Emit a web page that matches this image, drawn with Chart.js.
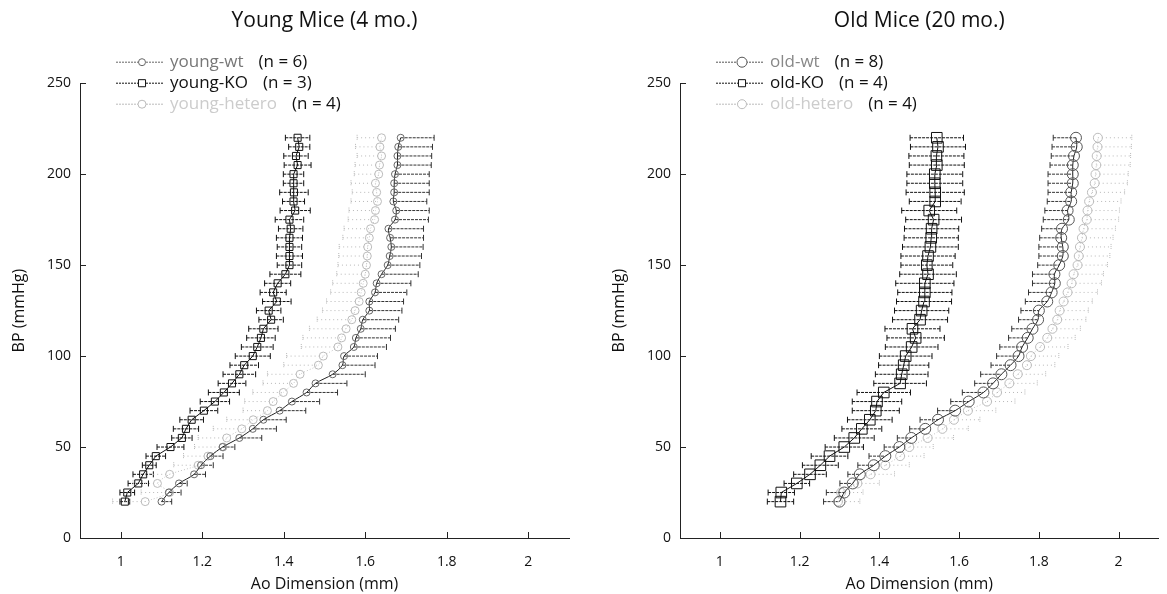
<!DOCTYPE html>
<html>
<head>
<meta charset="utf-8">
<script src="https://cdn.jsdelivr.net/npm/chart.js@4.4.0/dist/chart.umd.min.js"></script>
<style>
    body { margin: 0; background: #fff; }
    .wrap { position: relative; width: 1167px; height: 594px; overflow: hidden; }
    canvas { position: absolute; top: 0; }
    #youngChart { left: 0; }
    #oldChart { left: 600px; }
</style>
</head>
<body>
<div class="wrap">
    <canvas id="youngChart" width="649" height="594"></canvas>
    <canvas id="oldChart" width="567" height="594"></canvas>
</div>
<script>
const bpLevels = [20, 25, 30, 35, 40, 45, 50, 55, 60, 65, 70, 75, 80, 85, 90, 95, 100, 105, 110, 115, 120,
    125, 130, 135, 140, 145, 150, 155, 160, 165, 170, 175, 180, 185, 190, 195, 200, 205, 210, 215, 220];
const xTickValues = [1, 1.2, 1.4, 1.6, 1.8, 2];
const yTickValues = [0, 50, 100, 150, 200, 250];

// young mice (4 mo.)
const youngWt = [1.100, 1.118, 1.143, 1.180, 1.197, 1.220, 1.250, 1.291, 1.324, 1.350, 1.390, 1.420, 1.456, 1.478,
    1.520, 1.544, 1.548, 1.572, 1.577, 1.589, 1.594, 1.610, 1.610, 1.624, 1.628, 1.640, 1.655, 1.660, 1.664, 1.661,
    1.657, 1.673, 1.676, 1.669, 1.671, 1.671, 1.673, 1.679, 1.679, 1.681, 1.687];
const youngWtErr = [0.025, 0.030, 0.020, 0.028, 0.030, 0.031, 0.030, 0.055, 0.058, 0.056, 0.064, 0.068, 0.076, 0.077,
    0.080, 0.080, 0.082, 0.080, 0.085, 0.085, 0.088, 0.080, 0.084, 0.078, 0.084, 0.090, 0.079, 0.078, 0.078, 0.082,
    0.086, 0.082, 0.081, 0.082, 0.086, 0.086, 0.084, 0.083, 0.084, 0.084, 0.082];
const youngKo = [1.010, 1.016, 1.043, 1.055, 1.070, 1.086, 1.122, 1.150, 1.160, 1.174, 1.204, 1.231, 1.253, 1.273,
    1.291, 1.303, 1.324, 1.335, 1.344, 1.350, 1.369, 1.363, 1.383, 1.374, 1.385, 1.404, 1.414, 1.414, 1.414, 1.414,
    1.417, 1.414, 1.428, 1.424, 1.425, 1.424, 1.424, 1.434, 1.430, 1.438, 1.434];
const youngKoErr = [0.012, 0.018, 0.025, 0.025, 0.017, 0.024, 0.033, 0.025, 0.031, 0.029, 0.034, 0.036, 0.038, 0.034,
    0.040, 0.035, 0.043, 0.039, 0.035, 0.036, 0.030, 0.030, 0.035, 0.032, 0.032, 0.038, 0.030, 0.032, 0.030, 0.032,
    0.030, 0.035, 0.037, 0.027, 0.035, 0.025, 0.025, 0.033, 0.030, 0.026, 0.030];
const youngHet = [1.060, 1.120, 1.090, 1.120, 1.190, 1.214, 1.251, 1.260, 1.297, 1.325, 1.360, 1.374, 1.399, 1.424,
    1.440, 1.485, 1.497, 1.533, 1.542, 1.553, 1.567, 1.575, 1.585, 1.590, 1.595, 1.600, 1.603, 1.605, 1.606, 1.610,
    1.613, 1.623, 1.625, 1.630, 1.628, 1.625, 1.633, 1.635, 1.640, 1.636, 1.640];
const youngHetErr = [0.080, 0.070, 0.060, 0.060, 0.060, 0.060, 0.070, 0.070, 0.070, 0.065, 0.060, 0.070, 0.075, 0.075,
    0.080, 0.085, 0.090, 0.090, 0.095, 0.090, 0.085, 0.080, 0.080, 0.075, 0.075, 0.070, 0.070, 0.070, 0.070, 0.065,
    0.065, 0.065, 0.065, 0.065, 0.060, 0.060, 0.060, 0.060, 0.060, 0.060, 0.060];

// old mice (20 mo.)
const oldWt = [1.300, 1.312, 1.333, 1.351, 1.386, 1.415, 1.450, 1.480, 1.515, 1.547, 1.590, 1.624, 1.661, 1.685,
    1.706, 1.729, 1.749, 1.758, 1.772, 1.784, 1.798, 1.800, 1.821, 1.832, 1.840, 1.839, 1.851, 1.860, 1.860, 1.856,
    1.858, 1.875, 1.872, 1.881, 1.881, 1.885, 1.885, 1.885, 1.888, 1.895, 1.893];
const oldWtErr = [0.040, 0.045, 0.032, 0.030, 0.040, 0.041, 0.038, 0.035, 0.039, 0.045, 0.044, 0.045, 0.053, 0.046,
    0.052, 0.049, 0.055, 0.056, 0.048, 0.052, 0.049, 0.045, 0.055, 0.058, 0.056, 0.055, 0.054, 0.060, 0.060, 0.054,
    0.051, 0.064, 0.057, 0.060, 0.058, 0.062, 0.062, 0.057, 0.057, 0.062, 0.057];
const oldKo = [1.152, 1.154, 1.193, 1.226, 1.252, 1.275, 1.312, 1.337, 1.356, 1.376, 1.391, 1.394, 1.411, 1.452,
    1.456, 1.461, 1.466, 1.481, 1.491, 1.483, 1.502, 1.506, 1.512, 1.514, 1.514, 1.522, 1.519, 1.522, 1.528, 1.530,
    1.531, 1.536, 1.525, 1.540, 1.540, 1.539, 1.539, 1.544, 1.543, 1.547, 1.544];
const oldKoErr = [0.033, 0.033, 0.032, 0.041, 0.045, 0.046, 0.048, 0.050, 0.050, 0.056, 0.059, 0.062, 0.067, 0.066,
    0.066, 0.063, 0.066, 0.066, 0.072, 0.069, 0.069, 0.068, 0.069, 0.068, 0.073, 0.071, 0.065, 0.068, 0.070, 0.068,
    0.068, 0.070, 0.069, 0.065, 0.073, 0.070, 0.070, 0.069, 0.069, 0.069, 0.067];
const oldHet = [1.296, 1.304, 1.345, 1.378, 1.415, 1.452, 1.475, 1.521, 1.558, 1.587, 1.622, 1.670, 1.695, 1.726,
    1.747, 1.770, 1.780, 1.803, 1.821, 1.834, 1.846, 1.852, 1.862, 1.872, 1.882, 1.887, 1.897, 1.900, 1.903, 1.908,
    1.912, 1.920, 1.922, 1.926, 1.933, 1.940, 1.942, 1.944, 1.945, 1.947, 1.948];
const oldHetErr = [0.055, 0.055, 0.055, 0.060, 0.060, 0.060, 0.060, 0.065, 0.065, 0.065, 0.070, 0.070, 0.070, 0.070,
    0.070, 0.070, 0.070, 0.070, 0.070, 0.070, 0.072, 0.072, 0.072, 0.075, 0.075, 0.075, 0.075, 0.078, 0.078, 0.078,
    0.080, 0.080, 0.080, 0.080, 0.082, 0.082, 0.082, 0.085, 0.085, 0.085, 0.085];

const FONT = "'Open Sans', sans-serif";

function toPoints(values) {
    return values.map(function (v, i) { return { x: v, y: bpLevels[i] }; });
}

const errorBarPlugin = {
    id: 'errorBars',
    beforeDatasetsDraw: function (chart) {
        const ctx = chart.ctx;
        const xs = chart.scales.x;
        const ys = chart.scales.y;
        chart.data.datasets.forEach(function (ds) {
            if (!ds.errors) return;
            ctx.save();
            ctx.strokeStyle = ds.errorColor;
            ctx.lineWidth = 1;
            ds.data.forEach(function (pt, j) {
                const err = ds.errors[j];
                const y = ys.getPixelForValue(pt.y);
                const lo = ds.errorSide === 'plus' ? pt.x : pt.x - err;
                const hi = ds.errorSide === 'minus' ? pt.x : pt.x + err;
                const x0 = xs.getPixelForValue(lo);
                const x1 = xs.getPixelForValue(hi);
                ctx.setLineDash(ds.errorDash);
                ctx.beginPath();
                ctx.moveTo(x0, y);
                ctx.lineTo(x1, y);
                ctx.stroke();
                ctx.setLineDash(ds.capDash || []);
                ctx.beginPath();
                if (ds.errorSide !== 'plus') { ctx.moveTo(x0, y - 3); ctx.lineTo(x0, y + 3); }
                if (ds.errorSide !== 'minus') { ctx.moveTo(x1, y - 3); ctx.lineTo(x1, y + 3); }
                ctx.stroke();
            });
            ctx.restore();
        });
    }
};

const axisTickPlugin = {
    id: 'inwardTicks',
    afterDraw: function (chart) {
        const ctx = chart.ctx;
        const area = chart.chartArea;
        const xs = chart.scales.x;
        const ys = chart.scales.y;
        ctx.save();
        ctx.strokeStyle = '#222';
        ctx.lineWidth = 1;
        ctx.beginPath();
        xTickValues.forEach(function (v) {
            const x = Math.round(xs.getPixelForValue(v)) + 0.5;
            ctx.moveTo(x, area.bottom);
            ctx.lineTo(x, area.bottom - 6);
        });
        yTickValues.forEach(function (v) {
            const y = Math.round(ys.getPixelForValue(v)) + 0.5;
            ctx.moveTo(area.left, y);
            ctx.lineTo(area.left + 6, y);
        });
        ctx.stroke();
        ctx.restore();
    }
};

const legendPlugin = {
    id: 'sampleLegend',
    afterDraw: function (chart) {
        const ctx = chart.ctx;
        const area = chart.chartArea;
        ctx.save();
        ctx.font = '17px ' + FONT;
        ctx.textBaseline = 'middle';
        chart.data.datasets.forEach(function (ds, i) {
            const y = area.top - 21 + i * 21;
            const left = area.left + 36;
            ctx.strokeStyle = ds.pointBorderColor;
            ctx.lineWidth = 1;
            ctx.setLineDash([2, 1]);
            ctx.beginPath();
            ctx.moveTo(left, y);
            ctx.lineTo(left + 48, y);
            ctx.stroke();
            ctx.setLineDash([]);
            ctx.fillStyle = '#fff';
            Chart.helpers.drawPoint(ctx, {
                pointStyle: ds.pointStyle,
                radius: Math.min(ds.pointRadius, 5),
                borderWidth: 1
            }, left + 26, y);
            ctx.fillStyle = ds.nameColor;
            ctx.fillText(ds.label, left + 54, y);
            const w = ctx.measureText(ds.label).width;
            ctx.fillStyle = '#111';
            ctx.fillText('(n = ' + ds.count + ')', left + 54 + w + 15, y);
        });
        ctx.restore();
    }
};

function makeChart(canvasId, titleText, datasets, padRight) {
    const ctx = document.getElementById(canvasId).getContext('2d');
    return new Chart(ctx, {
        type: 'line',
        data: { datasets: datasets },
        options: {
            responsive: false,
            animation: false,
            devicePixelRatio: 1,
            layout: { padding: { left: 6, right: padRight, top: 0, bottom: 0 } },
            plugins: {
                legend: { display: false },
                tooltip: { enabled: false },
                title: {
                    display: true,
                    text: titleText,
                    fullSize: false,
                    color: '#111',
                    font: { family: FONT, size: 21, weight: 'normal' },
                    padding: { top: 8, bottom: 50 }
                }
            },
            scales: {
                x: {
                    type: 'linear',
                    min: 0.9,
                    max: 2.1,
                    afterBuildTicks: function (scale) {
                        scale.ticks = xTickValues.map(function (v) { return { value: v }; });
                    },
                    afterFit: function (scale) { scale.height = 56; },
                    ticks: {
                        color: '#111',
                        font: { family: FONT, size: 14 },
                        padding: 16,
                        maxRotation: 0,
                        autoSkip: false,
                        callback: function (v) { return String(v); }
                    },
                    grid: { drawOnChartArea: false, drawTicks: false },
                    border: { color: '#222', width: 1 },
                    title: {
                        display: true,
                        text: 'Ao Dimension (mm)',
                        color: '#111',
                        font: { family: FONT, size: 16 },
                        padding: { top: 0, bottom: 0 }
                    }
                },
                y: {
                    type: 'linear',
                    min: 0,
                    max: 250,
                    afterBuildTicks: function (scale) {
                        scale.ticks = yTickValues.map(function (v) { return { value: v }; });
                    },
                    afterFit: function (scale) { scale.width = 74; },
                    ticks: {
                        color: '#111',
                        font: { family: FONT, size: 14 },
                        padding: 9
                    },
                    grid: { drawOnChartArea: false, drawTicks: false },
                    border: { color: '#222', width: 1 },
                    title: {
                        display: true,
                        text: 'BP (mmHg)',
                        color: '#111',
                        font: { family: FONT, size: 16 },
                        padding: { top: 4, bottom: 0 }
                    }
                }
            }
        },
        plugins: [errorBarPlugin, axisTickPlugin, legendPlugin]
    });
}

document.addEventListener('DOMContentLoaded', function () {
    makeChart('youngChart', 'Young Mice (4 mo.)', [
        {
            label: 'young-wt', count: 6, nameColor: '#777',
            data: toPoints(youngWt), errors: youngWtErr, errorSide: 'plus',
            errorColor: '#333', errorDash: [3, 1],
            borderColor: '#222', borderWidth: 1, tension: 0.3,
            pointStyle: 'circle', pointRadius: 3.5, pointBorderColor: '#666',
            pointBackgroundColor: 'rgba(255,255,255,0)', pointBorderWidth: 1
        },
        {
            label: 'young-KO', count: 3, nameColor: '#111',
            data: toPoints(youngKo), errors: youngKoErr, errorSide: 'both',
            errorColor: '#111', errorDash: [3, 1],
            borderColor: '#111', borderWidth: 1, tension: 0,
            pointStyle: 'rect', pointRadius: 5, pointBorderColor: '#111',
            pointBackgroundColor: 'rgba(255,255,255,0)', pointBorderWidth: 1
        },
        {
            label: 'young-hetero', count: 4, nameColor: '#ccc',
            data: toPoints(youngHet), errors: youngHetErr, errorSide: 'minus',
            errorColor: '#b8b8b8', errorDash: [1, 3], capDash: [1, 1],
            borderColor: '#c4c4c4', borderWidth: 1, borderDash: [1, 2], tension: 0.2,
            pointStyle: 'circle', pointRadius: 4, pointBorderColor: '#bbb',
            pointBackgroundColor: 'rgba(255,255,255,0)', pointBorderWidth: 1
        }
    ], 80);

    makeChart('oldChart', 'Old Mice (20 mo.)', [
        {
            label: 'old-wt', count: 8, nameColor: '#888',
            data: toPoints(oldWt), errors: oldWtErr, errorSide: 'minus',
            errorColor: '#333', errorDash: [3, 1],
            borderColor: '#222', borderWidth: 1, tension: 0.3,
            pointStyle: 'circle', pointRadius: 5.5, pointBorderColor: '#555',
            pointBackgroundColor: 'rgba(255,255,255,0)', pointBorderWidth: 1
        },
        {
            label: 'old-KO', count: 4, nameColor: '#111',
            data: toPoints(oldKo), errors: oldKoErr, errorSide: 'both',
            errorColor: '#111', errorDash: [3, 1],
            borderColor: '#111', borderWidth: 1, tension: 0,
            pointStyle: 'rect', pointRadius: 7.5, pointBorderColor: '#111',
            pointBackgroundColor: 'rgba(255,255,255,0)', pointBorderWidth: 1
        },
        {
            label: 'old-hetero', count: 4, nameColor: '#ccc',
            data: toPoints(oldHet), errors: oldHetErr, errorSide: 'plus',
            errorColor: '#b8b8b8', errorDash: [1, 3], capDash: [1, 1],
            borderColor: '#c4c4c4', borderWidth: 1, borderDash: [1, 2], tension: 0.2,
            pointStyle: 'circle', pointRadius: 4.5, pointBorderColor: '#bbb',
            pointBackgroundColor: 'rgba(255,255,255,0)', pointBorderWidth: 1
        }
    ], 0);
});
</script>
</body>
</html>
